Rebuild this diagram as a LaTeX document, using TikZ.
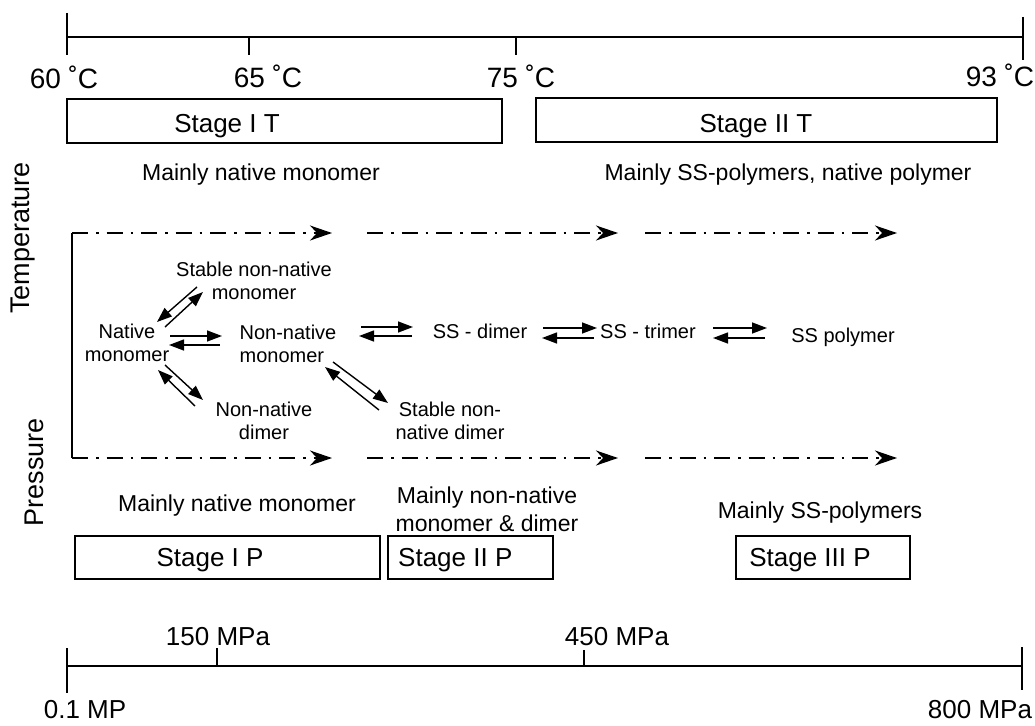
\documentclass[tikz,border=0pt]{standalone}
\usepackage{fontspec}
\setmainfont{Liberation Sans}
\usetikzlibrary{arrows.meta}
\begin{document}
\begin{tikzpicture}[x=1pt,y=-1pt,
  txt/.style={inner sep=0pt, align=center},
  axislbl/.style={txt, font=\fontsize{28}{32}\selectfont},
  mpalbl/.style={txt, font=\fontsize{26}{30}\selectfont},
  stagelbl/.style={txt, font=\fontsize{26}{30}\selectfont},
  note/.style={txt, font=\fontsize{23}{28}\selectfont},
  species/.style={txt, font=\fontsize{20}{23}\selectfont},
  sidelbl/.style={txt, font=\fontsize{27}{30}\selectfont, rotate=90},
  stagebox/.style={draw, line width=1.5pt, inner sep=0pt},
  axis/.style={line width=1.6pt},
  flow/.style={line width=1.6pt, dash pattern=on 16pt off 8pt on 2.5pt off 8pt,
    -{Stealth[length=22pt,width=15pt,inset=7pt]}},
  eq/.style={line width=1.4pt, -{Triangle[length=15pt,width=11pt]}}
]
\useasboundingbox (0,0) rectangle (1035,725);

% ---------- temperature axis ----------
\coordinate (t60) at (67,37);
\coordinate (t65) at (249,37);
\coordinate (t75) at (516,37);
\coordinate (t93) at (1023,37);
\draw[axis] (t60) -- (t93);
\draw[axis] (67,13) -- (67,55);
\draw[axis] (t65) -- (249,55);
\draw[axis] (t75) -- (516,55);
\draw[axis] (1023,17) -- (1023,60);
\node[axislbl] (l60) at (64,77) {60 ˚C};
\node[axislbl] (l65) at (268,76) {65 ˚C};
\node[axislbl] (l75) at (521,76) {75 ˚C};
\node[axislbl] (l93) at (1000,75) {93 ˚C};

% ---------- temperature stages ----------
\node[stagebox, minimum width=435pt, minimum height=44pt] (sIT) at (284.5,121) {};
\node[stagelbl] (sITt) at (227,126) {Stage I T};
\node[stagebox, minimum width=461pt, minimum height=44pt] (sIIT) at (766.5,120) {};
\node[stagelbl] (sIITt) at (756,126) {Stage II T};
\node[note] (tn1) at (261,175) {Mainly native monomer};
\node[note] (tn2) at (788,175) {Mainly SS-polymers, native polymer};

% ---------- side labels ----------
\node[sidelbl] (temp) at (23,238) {Temperature};
\node[sidelbl] (pres) at (34,472) {Pressure};

% ---------- flow lines ----------
\coordinate (c1) at (72,233);
\coordinate (c2) at (72,458);
\draw[line width=1.6pt] (c1) -- (c2);
\draw[flow] (c1) -- (332,233);
\draw[flow] (367,233) -- (618,233);
\draw[flow] (645,233) -- (897,233);
\draw[flow] (c2) -- (332,458);
\draw[flow] (367,458) -- (618,458);
\draw[flow] (645,458) -- (897,458);

% ---------- species ----------
\node[species] (snm) at (254,281) {Stable non-native\\monomer};
\node[species] (nat) at (127,343) {Native\\monomer};
\node[species, align=left] (nnm) at (288,344) {Non-native\\monomer};
\node[species] (nnd) at (264,421) {Non-native\\dimer};
\node[species] (snd) at (450,421) {Stable non-\\native dimer};
\node[species] (ssd) at (480,331) {SS - dimer};
\node[species] (sst) at (648,331) {SS - trimer};
\node[species] (ssp) at (843,337) {SS polymer};

% ---------- equilibria ----------
% native <-> stable non-native monomer
\coordinate (a1) at (165,327); \coordinate (a2) at (203,292);
\coordinate (b1) at (197,287); \coordinate (b2) at (157,322);
\draw[eq] (a1) -- (a2);
\draw[eq] (b1) -- (b2);
% native <-> non-native monomer
\coordinate (n1) at (170,336); \coordinate (n2) at (222,336);
\coordinate (n3) at (220,345); \coordinate (n4) at (169,345);
\draw[eq] (n1) -- (n2);
\draw[eq] (n3) -- (n4);
% native <-> non-native dimer
\coordinate (d1) at (165,365); \coordinate (d2) at (203,400);
\coordinate (d3) at (195,406); \coordinate (d4) at (158,370);
\draw[eq] (d1) -- (d2);
\draw[eq] (d3) -- (d4);
% non-native monomer <-> stable non-native dimer
\coordinate (e1) at (333,362); \coordinate (e2) at (388,403);
\coordinate (e3) at (379,410); \coordinate (e4) at (325,367);
\draw[eq] (e1) -- (e2);
\draw[eq] (e3) -- (e4);
% non-native monomer <-> SS-dimer
\coordinate (m1) at (361,327); \coordinate (m2) at (413,327);
\coordinate (m3) at (412,336); \coordinate (m4) at (359,336);
\draw[eq] (m1) -- (m2);
\draw[eq] (m3) -- (m4);
% SS-dimer <-> SS-trimer
\coordinate (p1) at (543,328); \coordinate (p2) at (597,328);
\coordinate (p3) at (594,338); \coordinate (p4) at (542,338);
\draw[eq] (p1) -- (p2);
\draw[eq] (p3) -- (p4);
% SS-trimer <-> SS polymer
\coordinate (q1) at (713,328); \coordinate (q2) at (767,328);
\coordinate (q3) at (765,338); \coordinate (q4) at (713,338);
\draw[eq] (q1) -- (q2);
\draw[eq] (q3) -- (q4);

% ---------- pressure stages ----------
\node[note] (pn1) at (237,506) {Mainly native monomer};
\node[note] (pn2) at (487,509) {Mainly non-native\\monomer \& dimer};
\node[note] (pn3) at (820,513) {Mainly SS-polymers};
\node[stagebox, minimum width=305pt, minimum height=43pt] (sIP) at (227.5,557.5) {};
\node[stagelbl] (sIPt) at (210,560) {Stage I P};
\node[stagebox, minimum width=165pt, minimum height=43pt] (sIIP) at (470.5,557.5) {};
\node[stagelbl, anchor=west] (sIIPt) at (398,560) {Stage II P};
\node[stagebox, minimum width=174pt, minimum height=43pt] (sIIIP) at (823,557.5) {};
\node[stagelbl] (sIIIPt) at (810,560) {Stage III P};

% ---------- pressure axis ----------
\coordinate (p01) at (67,666);
\coordinate (p150) at (217,666);
\coordinate (p450) at (584,666);
\coordinate (p800) at (1022,666);
\draw[axis] (p01) -- (p800);
\draw[axis] (67,648) -- (67,693);
\draw[axis] (217,648) -- (p150);
\draw[axis] (584,650) -- (p450);
\draw[axis] (1022,647) -- (1022,690);
\node[mpalbl] (l150) at (218,637) {150 MPa};
\node[mpalbl] (l450) at (617,637) {450 MPa};
\node[mpalbl] (l01) at (85,710) {0.1 MP};
\node[mpalbl] (l800) at (980,710) {800 MPa};
\end{tikzpicture}
\end{document}
